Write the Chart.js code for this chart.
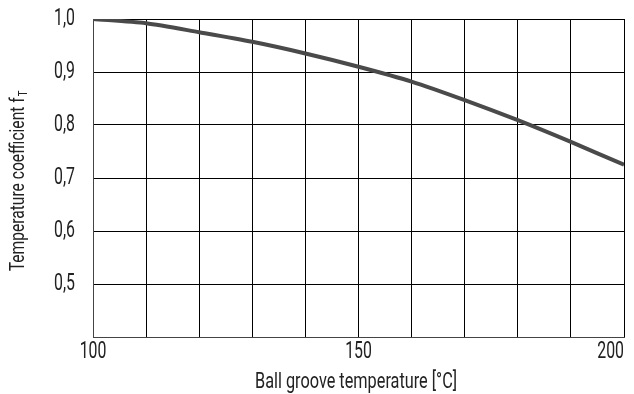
<!DOCTYPE html>
<html><head><meta charset="utf-8">
<script src="https://cdn.jsdelivr.net/npm/chart.js@4/dist/chart.umd.min.js"></script>
<style>html,body{margin:0;padding:0;background:#fff}#wrap{width:634px;height:394px}</style>
</head><body><div id="wrap"><canvas id="c" width="634" height="394"></canvas></div>
<script>
const temperatures = [100, 110, 120, 130, 140, 150, 160, 170, 180, 190, 200];
const coefficients = [1.0, 0.992, 0.975, 0.957, 0.935, 0.910, 0.882, 0.847, 0.809, 0.768, 0.725];
const xTickLabels = [100, 150, 200];
const yTickLabels = [0.5, 0.6, 0.7, 0.8, 0.9, 1.0];
const xTitle = 'Ball groove temperature [°C]';
const yTitle = 'Temperature coefficient f';
const yTitleSub = 'T';

const FONT = 'Roboto, "DejaVu Sans Condensed", sans-serif';
const TXT = '#222';

function drawText(ctx, text, x, y, size, sx, align) {
  ctx.save();
  ctx.font = size + 'px ' + FONT;
  const w = ctx.measureText(text).width * sx;
  let left = x;
  if (align === 'center') left = x - w / 2;
  else if (align === 'right') left = x - w;
  ctx.translate(left, y);
  ctx.scale(sx, 1);
  ctx.textAlign = 'left';
  ctx.textBaseline = 'middle';
  ctx.fillText(text, 0, 0);
  ctx.restore();
  return w;
}

const textPlugin = {
  id: 'textPlugin',
  afterDraw(chart) {
    const ctx = chart.ctx, xs = chart.scales.x, ys = chart.scales.y;
    ctx.save();
    ctx.fillStyle = TXT;
    xTickLabels.forEach((v, i) => {
      const px = xs.getPixelForValue(v);
      const align = i === xTickLabels.length - 1 ? 'right' : 'center';
      drawText(ctx, String(v), px, 352, 24, 0.66, align);
    });
    yTickLabels.forEach(v => {
      const py = ys.getPixelForValue(v);
      drawText(ctx, v.toFixed(1).replace('.', ','), 75, py, 24, 0.66, 'right');
    });
    drawText(ctx, xTitle, 356, 382, 22, 0.74, 'center');
    // y title rotated with subscript
    ctx.translate(19, 181);
    ctx.rotate(-Math.PI / 2);
    ctx.font = '20px ' + FONT;
    const w1 = ctx.measureText(yTitle).width * 0.78;
    ctx.font = '12px ' + FONT;
    const w2 = ctx.measureText(yTitleSub).width * 0.78;
    const start = -(w1 + w2 + 1) / 2;
    drawText(ctx, yTitle, start, 0, 20, 0.78, 'left');
    drawText(ctx, yTitleSub, start + w1 + 1, 5, 12, 0.78, 'left');
    ctx.restore();
  }
};

new Chart(document.getElementById('c'), {
  type: 'line',
  data: {
    datasets: [{
      data: temperatures.map((t, i) => ({x: t, y: coefficients[i]})),
      borderColor: '#4a4a4a',
      borderWidth: 4,
      pointRadius: 0,
      tension: 0.25,
      fill: false
    }]
  },
  options: {
    responsive: false,
    animation: false,
    layout: {padding: {top: 19, right: 10, left: 0, bottom: 0}},
    plugins: {legend: {display: false}, tooltip: {enabled: false}},
    scales: {
      x: {
        type: 'linear', min: 100, max: 200,
        ticks: {stepSize: 10, display: false},
        grid: {color: '#000', lineWidth: 1, drawTicks: false},
        border: {color: '#444', width: 1},
        afterFit(s) { s.height = 57; }
      },
      y: {
        min: 0.4, max: 1.0,
        ticks: {stepSize: 0.1, display: false},
        grid: {color: '#000', lineWidth: 1, drawTicks: false},
        border: {color: '#444', width: 1},
        afterFit(s) { s.width = 93; }
      }
    }
  },
  plugins: [textPlugin]
});
</script></body></html>
